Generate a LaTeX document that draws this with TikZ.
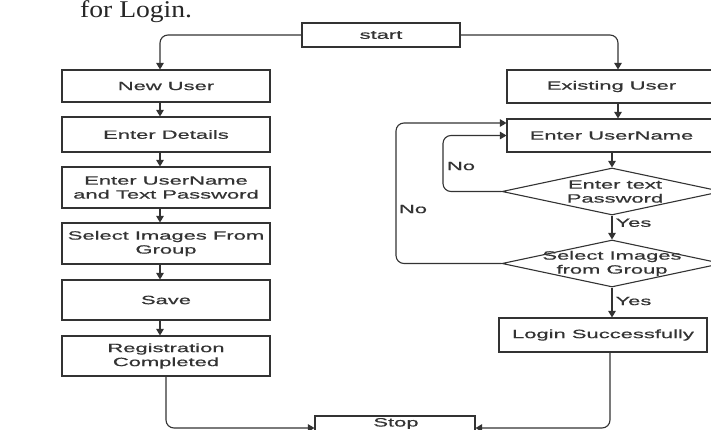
\documentclass[tikz,border=0pt]{standalone}
\usepackage{fontspec}
\setmainfont{Liberation Sans}
\newfontfamily\wideSans{Liberation Sans}[FakeStretch=1.83,FakeBold=0.6]
\newfontfamily\wideSerif{Liberation Serif}[FakeStretch=1.15]
\usetikzlibrary{shapes.geometric,arrows.meta,calc}
\definecolor{ink}{HTML}{333333}
\begin{document}
\begin{tikzpicture}[x=1pt,y=-1pt,
  txtfont/.style={font=\wideSans\fontsize{12}{14}\selectfont,text=ink},
  box/.style={draw=ink,line width=1.1pt,rectangle,inner sep=0pt,align=center,txtfont},
  dia/.style={draw=ink,line width=1.1pt,diamond,inner sep=0pt,minimum width=220pt,minimum height=47pt},
  lbl/.style={txtfont,inner sep=0pt,align=center},
  arr/.style={draw=ink,line width=1.1pt,rounded corners=8pt,-{Triangle[length=6.5pt,width=7.5pt]}}]
\clip (0,0) rectangle (711,430);
\fill[white] (0,0) rectangle (711,430);

% heading fragment
\node[anchor=base west,inner sep=0pt,font=\wideSerif\fontsize{24}{28}\selectfont,text=black!85] (hdr) at (80,18) {for Login.};

% start / stop
\node[box,minimum width=158pt,minimum height=24pt] (st) at (381,35) {start};
\node[box,minimum width=160pt,minimum height=24pt] (sp) at (395,428) {};
\node[lbl] (spt) at (396,423.5) {Stop};

% left column
\node[box,minimum width=208pt,minimum height=32pt] (nu) at (166,86) {New User};
\node[box,minimum width=208pt,minimum height=35pt] (ed) at (166,134.5) {Enter Details};
\node[box,minimum width=208pt,minimum height=41pt] (eut) at (166,187.5) {Enter UserName\\and Text Password};
\node[box,minimum width=208pt,minimum height=41pt] (sel) at (166,243.5) {Select Images From\\Group};
\node[box,minimum width=208pt,minimum height=40pt] (sv) at (166,300) {Save};
\node[box,minimum width=208pt,minimum height=40pt] (rc) at (166,356) {Registration\\Completed};

% right column
\node[box,minimum width=209pt,minimum height=33pt] (ex) at (611.5,86.5) {Existing User};
\node[box,minimum width=209pt,minimum height=33pt] (eu) at (611.5,135.5) {Enter UserName};
\node[dia] (d1) at (612,191.5) {};
\node[lbl] (d1t) at (615,191.5) {Enter text\\Password};
\node[dia] (d2) at (612,263.5) {};
\node[lbl] (d2t) at (612,263.5) {Select Images\\from Group};
\node[box,minimum width=208pt,minimum height=34pt] (ls) at (603,335) {Login Successfully};

\coordinate (inx) at (443,150);
\coordinate (outx) at (396,200);

% connectors
\draw[arr] (st.west) -| ([xshift=-6pt]nu.north);
\draw[arr] (st.east) -| ([xshift=6.5pt]ex.north);
\draw[arr] ([xshift=-6pt]nu.south) -- ([xshift=-6pt]ed.north);
\draw[arr] ([xshift=-6pt]ed.south) -- ([xshift=-6pt]eut.north);
\draw[arr] ([xshift=-6pt]eut.south) -- ([xshift=-6pt]sel.north);
\draw[arr] ([xshift=-6pt]sel.south) -- ([xshift=-6pt]sv.north);
\draw[arr] ([xshift=-6pt]sv.south) -- ([xshift=-6pt]rc.north);
\draw[arr] (rc.south) |- (sp.west);

\draw[arr] ([xshift=6.5pt]ex.south) -- ([xshift=6.5pt]eu.north);
\draw[arr] (eu.south -| d1.north) -- (d1.north);
\draw[arr] (d1.south) -- (d2.north) node[pos=0.3,anchor=west,xshift=3pt,lbl] (y1) {Yes};
\draw[arr] (d2.south) -- (d2.south |- ls.north) node[pos=0.45,anchor=west,xshift=3pt,lbl] (y2) {Yes};
\draw[arr] ([xshift=7pt]ls.south) |- (sp.east);

\draw[arr] (d1.west) -- (d1.west -| inx) |- (eu.west);
\draw[arr] (d2.west) -- (d2.west -| outx) |- ([yshift=12.5pt]eu.west);
\node[lbl] (no1) at (461,166) {No};
\node[lbl] (no2) at (413,209) {No};
\end{tikzpicture}
\end{document}
